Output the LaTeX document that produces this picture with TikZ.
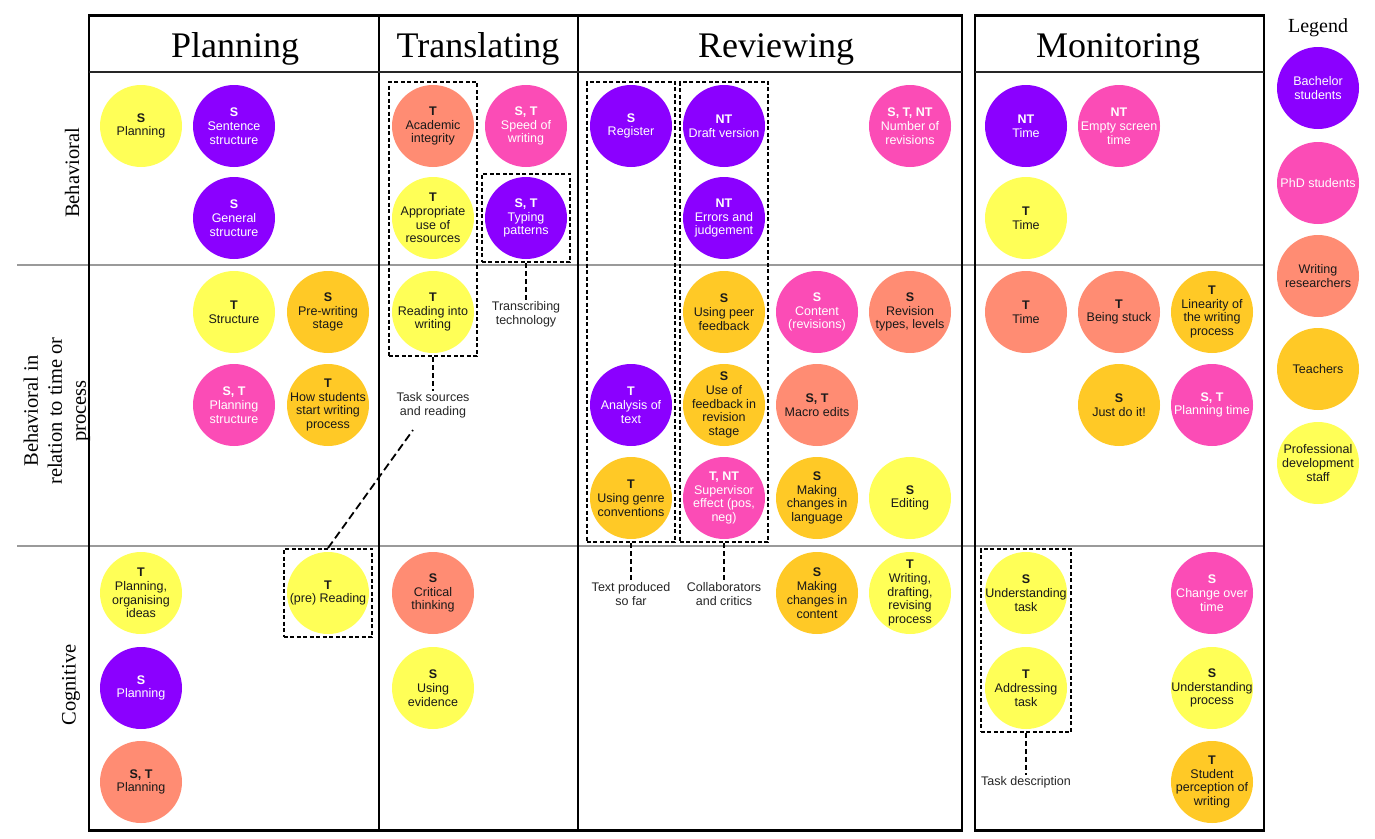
\documentclass[tikz,border=0pt]{standalone}
\usepackage{fontspec}
\setmainfont{Liberation Serif}
\newfontfamily\arialf{Liberation Sans}
\usetikzlibrary{fit,calc}
\definecolor{cpur}{HTML}{8B00FF}
\definecolor{cpink}{HTML}{FB4CB6}
\definecolor{csal}{HTML}{FF8C73}
\definecolor{cora}{HTML}{FFC926}
\definecolor{cyel}{HTML}{FFFF57}
\definecolor{rowgray}{HTML}{9A9A9A}
\begin{document}
\begin{tikzpicture}[x=1pt,y=-1pt,
  bub/.style={circle,minimum size=82pt,inner sep=-20pt,align=center,
    font=\arialf\fontsize{12.5}{13.8}\selectfont,text=black!90},
  bpur/.style={bub,fill=cpur,text=white},
  bpink/.style={bub,fill=cpink,text=white},
  bsal/.style={bub,fill=csal},
  bora/.style={bub,fill=cora},
  byel/.style={bub,fill=cyel},
  dbox/.style={draw,dash pattern=on 4pt off 2.5pt,line width=1.5pt,inner sep=3pt},
  stub/.style={draw,dash pattern=on 5pt off 3pt,line width=1.6pt},
  longdash/.style={draw,dash pattern=on 8pt off 4pt,line width=1.8pt},
  lab/.style={align=center,inner sep=1pt,text=black!85,
    font=\arialf\fontsize{12.5}{13.8}\selectfont},
  hdr/.style={anchor=base,font=\fontsize{36}{40}\selectfont,inner sep=0pt},
  rowlab/.style={rotate=90,align=center,font=\fontsize{20.5}{24}\selectfont,inner sep=0pt}
]
\useasboundingbox (0,0) rectangle (1375,838);

% grid lines
\draw[rowgray,line width=1.5pt] (17,265) -- (1264,265);
\draw[rowgray,line width=1.5pt] (17,546) -- (1264,546);
\draw[line width=1.4pt] (89,15) rectangle (962,830);
\draw[line width=1.4pt] (975,15) rectangle (1264,830);
\draw[line width=3pt] (88.3,15) -- (962.7,15);
\draw[line width=3pt] (974.3,15) -- (1264.7,15);
\draw[line width=3pt] (88.3,830) -- (962.7,830);
\draw[line width=3pt] (974.3,830) -- (1264.7,830);
\draw[line width=1.8pt] (379,15) -- (379,830);
\draw[line width=1.8pt] (578,15) -- (578,830);
\draw[line width=1.4pt,black!85] (89,72) -- (962,72);
\draw[line width=1.4pt,black!85] (975,72) -- (1264,72);

% headers
\node[hdr] (h1) at (235,57.5) {Planning};
\node[hdr] (h2) at (478,57.5) {Translating};
\node[hdr] (h3) at (776,57.5) {Reviewing};
\node[hdr] (h4) at (1118,57.5) {Monitoring};
\node[anchor=base,font=\fontsize{20}{24}\selectfont,inner sep=0pt] (lg0) at (1318,32) {Legend};

% row labels
\node[rowlab] (r1) at (72,173) {Behavioral};
\node[rowlab] (r2) at (57,411) {Behavioral in\\relation to time or\\process};
\node[rowlab] (r3) at (71,685) {Cognitive};

% Planning
\node[byel] (pl1) at (141,126) {\textbf{S}\\Planning};
\node[bpur] (pl2) at (234,126) {\textbf{S}\\Sentence\\structure};
\node[bpur] (pl3) at (234,218) {\textbf{S}\\General\\structure};
\node[byel] (pl4) at (234,312) {\textbf{T}\\Structure};
\node[bora] (pl5) at (328,312) {\textbf{S}\\Pre-writing\\stage};
\node[bpink] (pl6) at (234,405) {\textbf{S, T}\\Planning\\structure};
\node[bora] (pl7) at (328,405) {\textbf{T}\\How students\\start writing\\process};
\node[byel] (pl8) at (141,593) {\textbf{T}\\Planning,\\organising\\ideas};
\node[byel] (pl9) at (328,593) {\textbf{T}\\(pre) Reading};
\node[bpur] (pl10) at (141,688) {\textbf{S}\\Planning};
\node[bsal] (pl11) at (141,782) {\textbf{S, T}\\Planning};

% Translating
\node[bsal] (tr1) at (433,126) {\textbf{T}\\Academic\\integrity};
\node[bpink] (tr2) at (526,126) {\textbf{S, T}\\Speed of\\writing};
\node[byel] (tr3) at (433,218) {\textbf{T}\\Appropriate\\use of\\resources};
\node[bpur] (tr4) at (526,218) {\textbf{S, T}\\Typing\\patterns};
\node[byel] (tr5) at (433,312) {\textbf{T}\\Reading into\\writing};
\node[bsal] (tr6) at (433,593) {\textbf{S}\\Critical\\thinking};
\node[byel] (tr7) at (433,688) {\textbf{S}\\Using\\evidence};

% Reviewing
\node[bpur] (rv1) at (631,126) {\textbf{S}\\Register};
\node[bpur] (rv2) at (724,126) {\textbf{NT}\\Draft version};
\node[bpur] (rv3) at (724,218) {\textbf{NT}\\Errors and\\judgement};
\node[bpink] (rv4) at (910,126) {\textbf{S, T, NT}\\Number of\\revisions};
\node[bora] (rv5) at (724,312) {\textbf{S}\\Using peer\\feedback};
\node[bpink] (rv6) at (817,312) {\textbf{S}\\Content\\(revisions)};
\node[bsal] (rv7) at (910,312) {\textbf{S}\\Revision\\types, levels};
\node[bpur] (rv8) at (631,405) {\textbf{T}\\Analysis of\\text};
\node[bora] (rv9) at (724,405) {\textbf{S}\\Use of\\feedback in\\revision\\stage};
\node[bsal] (rv10) at (817,405) {\textbf{S, T}\\Macro edits};
\node[bora] (rv11) at (631,498) {\textbf{T}\\Using genre\\conventions};
\node[bpink] (rv12) at (724,498) {\textbf{T, NT}\\Supervisor\\effect (pos,\\neg)};
\node[bora] (rv13) at (817,498) {\textbf{S}\\Making\\changes in\\language};
\node[byel] (rv14) at (910,498) {\textbf{S}\\Editing};
\node[bora] (rv15) at (817,593) {\textbf{S}\\Making\\changes in\\content};
\node[byel] (rv16) at (910,593) {\textbf{T}\\Writing,\\drafting,\\revising\\process};

% Monitoring
\node[bpur] (mo1) at (1026,126) {\textbf{NT}\\Time};
\node[bpink] (mo2) at (1119,126) {\textbf{NT}\\Empty screen\\time};
\node[byel] (mo3) at (1026,218) {\textbf{T}\\Time};
\node[bsal] (mo4) at (1026,312) {\textbf{T}\\Time};
\node[bsal] (mo5) at (1119,312) {\textbf{T}\\Being stuck};
\node[bora] (mo6) at (1212,312) {\textbf{T}\\Linearity of\\the writing\\process};
\node[bora] (mo7) at (1119,405) {\textbf{S}\\Just do it!};
\node[bpink] (mo8) at (1212,405) {\textbf{S, T}\\Planning time};
\node[byel] (mo9) at (1026,593) {\textbf{S}\\Understanding\\task};
\node[byel] (mo10) at (1026,688) {\textbf{T}\\Addressing\\task};
\node[bpink] (mo11) at (1212,593) {\textbf{S}\\Change over\\time};
\node[byel] (mo12) at (1212,688) {\textbf{S}\\Understanding\\process};
\node[bora] (mo13) at (1212,782) {\textbf{T}\\Student\\perception of\\writing};

% Legend
\node[bpur] (lg1) at (1318,88) {Bachelor\\students};
\node[bpink] (lg2) at (1318,183) {PhD students};
\node[bsal] (lg3) at (1318,276) {Writing\\researchers};
\node[bora] (lg4) at (1318,369) {Teachers};
\node[byel] (lg5) at (1318,463) {Professional\\development\\staff};

% dashed groups
\node[dbox,fit=(tr1)(tr5)] (bx1) {};
\node[dbox,fit=(tr4)] (bx2) {};
\node[dbox,fit=(rv1)(rv11)] (bx3) {};
\node[dbox,fit=(rv2)(rv12)] (bx4) {};
\node[dbox,fit=(pl9)] (bx5) {};
\node[dbox,fit=(mo9)(mo10),inner xsep=4pt] (bx6) {};

% group labels
\node[lab] (lb1) at (433,405) {Task sources\\and reading};
\node[lab] (lb2) at (526,314) {Transcribing\\technology};
\node[lab] (lb3) at (631,594) {Text produced\\so far};
\node[lab] (lb4) at (724,594) {Collaborators\\and critics};
\node[lab] (lb5) at (1026,782) {Task description};

\draw[stub] (bx1.south) -- (lb1.north);
\draw[stub] (bx2.south) -- (lb2.north);
\draw[stub] (bx3.south) -- (lb3.north);
\draw[stub] (bx4.south) -- (lb4.north);
\draw[stub] (bx6.south) -- (lb5.north);
\coordinate (tsend) at (413,430);
\draw[longdash] (bx5.north) -- (tsend);
\end{tikzpicture}
\end{document}
